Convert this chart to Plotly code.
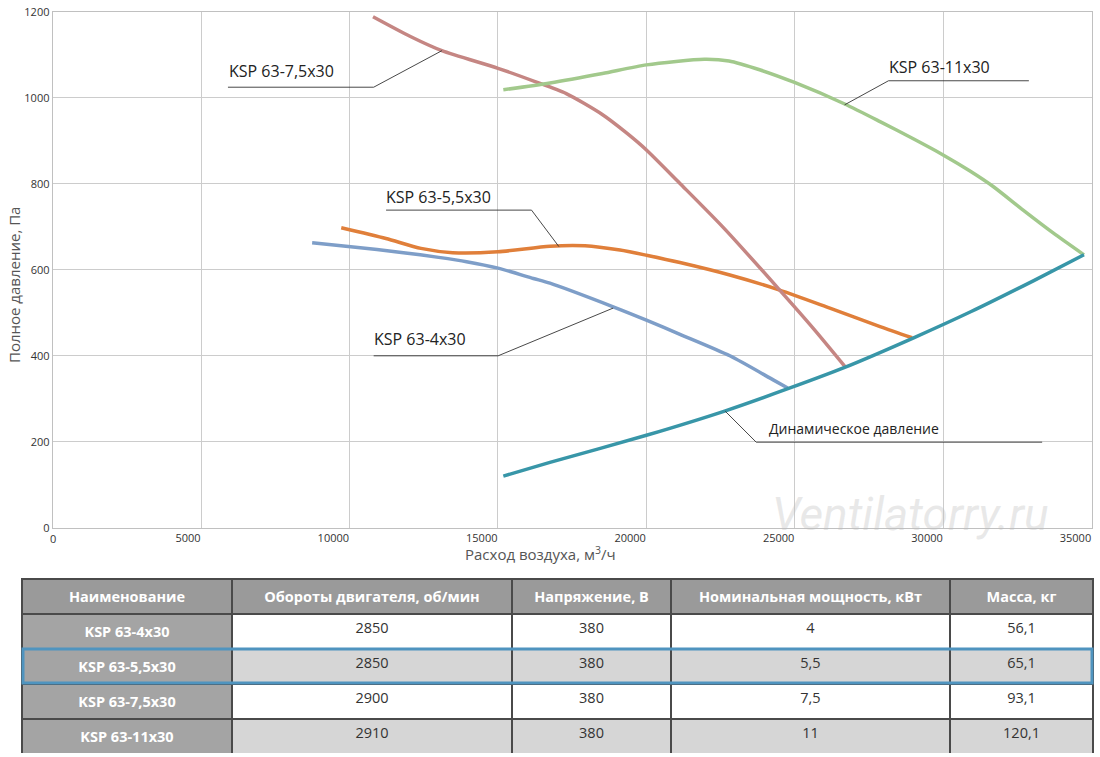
import plotly.graph_objects as go

W, H = 1100, 757

# fan curves: air flow (m3/h) -> total pressure (Pa)
ksp4_x = [8740, 10040, 11815, 13000, 13940, 15000, 16190, 16750, 18880, 20000, 21130, 22810, 24270, 24760]
ksp4_y = [663, 654, 640, 629, 619, 604, 580, 569, 514, 483, 450, 400, 344, 325]

ksp55_x = [9720, 11225, 12405, 13470, 15000, 16750, 17930, 19110, 20000, 21130, 22810, 24490, 26180, 27870, 28950]
ksp55_y = [698, 673, 650, 640, 642, 655, 656, 646, 634, 617, 588, 553, 511, 468, 442]

ksp75_x = [10790, 12050, 13110, 15000, 16250, 17300, 18500, 19340, 20000, 21130, 22570, 24490, 25620, 26690]
ksp75_y = [1189, 1143, 1110, 1069, 1038, 1010, 962, 918, 879, 801, 700, 553, 464, 375]

ksp11_x = [15180, 16750, 18520, 20000, 21950, 22780, 23840, 24990, 26680, 27870, 28990, 29980, 30900, 31680, 32690, 33700, 34740]
ksp11_y = [1019, 1035, 1057, 1077, 1090, 1086, 1065, 1036, 986, 945, 905, 868, 830, 794, 739, 686, 635]

dyn_x = [15180, 16750, 20000, 22660, 24790, 26680, 29040, 30940, 33050, 34740]
dyn_y = [120, 152, 215, 272, 324, 373, 443, 503, 575, 635]

x_ticks = [5000, 10000, 15000, 20000, 25000, 30000, 35000]

# table
tbl_head = ["Наименование", "Обороты двигателя, об/мин", "Напряжение, В",
            "Номинальная мощность, кВт", "Масса, кг"]
tbl_name = ["KSP 63-4x30", "KSP 63-5,5x30", "KSP 63-7,5x30", "KSP 63-11x30"]
tbl_rpm = ["2850", "2850", "2900", "2910"]
tbl_volt = ["380", "380", "380", "380"]
tbl_power = ["4", "5,5", "7,5", "11"]
tbl_mass = ["56,1", "65,1", "93,1", "120,1"]


def px(x):
    return x / W


def py(y):
    return 1 - y / H


fig = go.Figure()

curves = [
    (ksp4_x, ksp4_y, "#7e9ec8"),
    (ksp55_x, ksp55_y, "#e07f3a"),
    (ksp75_x, ksp75_y, "#c58683"),
    (ksp11_x, ksp11_y, "#a2c98c"),
    (dyn_x, dyn_y, "#3896a8"),
]
for cx, cy, col in curves:
    fig.add_trace(go.Scatter(x=cx, y=cy, mode="lines",
                             line=dict(color=col, width=3.5, shape="spline", smoothing=0.7),
                             hoverinfo="skip", showlegend=False))

# labels with leader lines (data coords)
leaders = [
    # underline, then pointer to curve
    [(5904, 1025), (10812, 1025), (13110, 1110)],
    [(11230, 739), (16130, 739), (17053, 654)],
    [(32883, 1040), (28155, 1040), (26676, 984)],
    [(10812, 400), (15005, 400), (18878, 511)],
    [(33331, 199), (23698, 199), (22656, 271)],
]
for pts in leaders:
    for (x0, y0), (x1, y1) in zip(pts[:-1], pts[1:]):
        fig.add_shape(type="line", xref="x", yref="y", x0=x0, y0=y0, x1=x1, y1=y1,
                      line=dict(color="#333333", width=0.9))

labels = [
    ("KSP 63-7,5x30", 227, 71, 16),
    ("KSP 63-5,5x30", 384, 197, 16),
    ("KSP 63-11x30", 887, 67, 16),
    ("KSP 63-4x30", 372, 339, 16),
    ("Динамическое давление", 767, 428, 14),
]
for txt, lx, ly, fs in labels:
    fig.add_annotation(x=px(lx), y=py(ly), xref="paper", yref="paper", text=txt,
                       showarrow=False, xanchor="left", yanchor="middle",
                       font=dict(family="Open Sans", size=fs, color="#222222"))

# the x origin label sits centred under the axis, the rest are right-aligned
fig.add_annotation(x=0, y=0, xref="x", yref="y", yshift=-1,
                   xanchor="center", yanchor="top", text="0", showarrow=False,
                   font=dict(family="Open Sans", size=11, color="#333333"))

# axis titles
fig.add_annotation(x=px(540), y=py(553), xref="paper", yref="paper",
                   xanchor="center", yanchor="middle",
                   text="Расход воздуха, м<sup>3</sup>/ч", showarrow=False,
                   font=dict(family="Open Sans", size=15, color="#555555"))
fig.add_annotation(x=px(14), y=py(285), xref="paper", yref="paper",
                   xanchor="center", yanchor="middle",
                   text="Полное давление, Па", showarrow=False, textangle=-90,
                   font=dict(family="Open Sans", size=15, color="#555555"))

# watermark
fig.add_annotation(x=px(910), y=py(514), xref="paper", yref="paper",
                   xanchor="center", yanchor="middle",
                   text="Ventilatorry.ru", showarrow=False,
                   font=dict(family="Roboto", size=46, color="rgba(190,190,190,0.35)",
                             style="italic"))

fig.add_trace(go.Table(
    domain=dict(x=[px(22), px(1093)], y=[py(753), py(579)]),
    columnwidth=[210, 280, 159, 279, 143],
    header=dict(values=["<b>%s</b>" % h for h in tbl_head],
                fill_color="#9a9a9a", line=dict(color="#4a4a4a", width=1.5),
                font=dict(family="Open Sans", size=14.5, color="white"),
                align="center", height=34),
    cells=dict(values=[["<b>%s</b>" % n for n in tbl_name], tbl_rpm, tbl_volt, tbl_power, tbl_mass],
               fill_color=[["#a4a4a4"] * 4] + [["#ffffff", "#d6d6d6", "#ffffff", "#d6d6d6"]] * 4,
               line=dict(color="#4a4a4a", width=1.5),
               font=dict(family="Open Sans", size=14.5,
                         color=[["white"] * 4] + [["#333333"] * 4] * 4),
               align="center", height=35),
))

# highlighted row
fig.add_shape(type="rect", xref="paper", yref="paper",
              x0=px(23), x1=px(1092), y0=py(683), y1=py(649),
              line=dict(color="#4f94bf", width=3))

fig.update_xaxes(domain=[px(52.7), px(1091.7)], range=[0, 35000],
                 tickvals=x_ticks, tickformat="d", ticklabelposition="outside left",
                 showgrid=True, gridcolor="#cccccc", gridwidth=1, zeroline=False,
                 showline=True, linecolor="#c0c0c0", mirror=True, ticks="",
                 tickfont=dict(family="Open Sans", size=11, color="#333333"),
                 automargin=False, fixedrange=True)
fig.update_yaxes(domain=[py(527.7), py(12)], range=[0, 1200], dtick=200, tickformat="d",
                 showgrid=True, gridcolor="#cccccc", gridwidth=1, zeroline=False,
                 showline=True, linecolor="#c0c0c0", mirror=True, ticks="",
                 tickfont=dict(family="Open Sans", size=11, color="#333333"),
                 automargin=False, fixedrange=True)

fig.update_layout(width=W, height=H, margin=dict(l=0, r=0, t=0, b=0),
                  paper_bgcolor="white", plot_bgcolor="white", showlegend=False)

fig.write_html("out.html", config={"displayModeBar": False},
               post_script="document.body.style.margin='0';")
